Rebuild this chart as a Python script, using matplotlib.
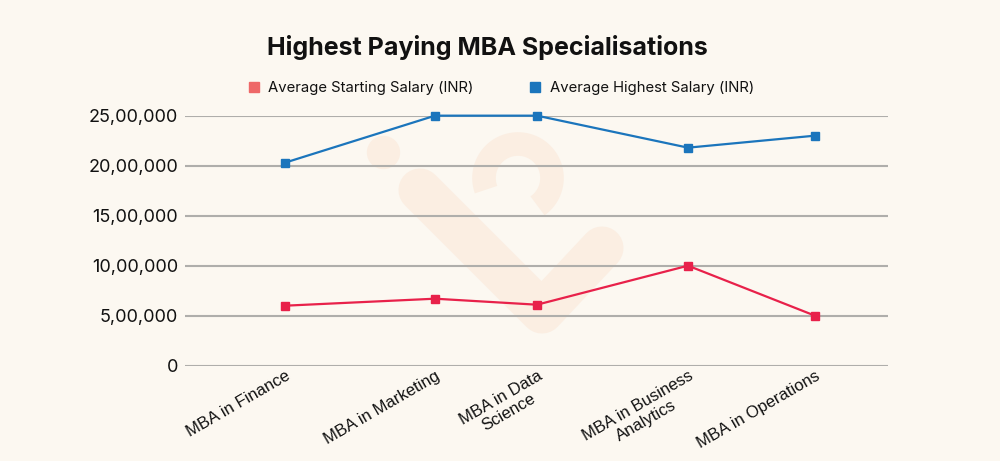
import matplotlib
matplotlib.use("Agg")
import matplotlib.pyplot as plt
from matplotlib.lines import Line2D
from matplotlib.ticker import FuncFormatter
import numpy as np

categories = ["MBA in Finance", "MBA in Marketing", "MBA in Data\nScience",
              "MBA in Business\nAnalytics", "MBA in Operations"]
starting_salary = [600000, 670000, 610000, 1000000, 500000]
highest_salary = [2030000, 2500000, 2500000, 2180000, 2300000]
series_names = ["Average Starting Salary (INR)", "Average Highest Salary (INR)"]
y_ticks = [0, 500000, 1000000, 1500000, 2000000, 2500000]

# category positions along the x axis (as spaced in the original chart)
x_positions = [0.0, 1.5, 2.52, 4.03, 5.3]

BG = "#FCF8F1"
RED = "#E8214A"
RED_LEG = "#EE6868"
BLUE = "#1B75BC"
GRID = "#AFAEAB"
WM = "#FBEEE2"


def indian_format(v, pos=None):
    v = int(round(v))
    s = str(v)
    if len(s) <= 3:
        return s
    last3 = s[-3:]
    rest = s[:-3]
    parts = []
    while len(rest) > 2:
        parts.insert(0, rest[-2:])
        rest = rest[:-2]
    if rest:
        parts.insert(0, rest)
    return ",".join(parts) + "," + last3


fig = plt.figure(figsize=(10, 4.61), dpi=100, facecolor=BG)

# faint watermark (decorative)
wm = fig.add_axes([0, 0, 1, 1], zorder=0)
wm.set_xlim(0, 1000)
wm.set_ylim(461, 0)
wm.axis("off")
wm.plot([420, 542, 602], [190, 312, 248], color=WM, lw=31,
        solid_capstyle="round", solid_joinstyle="round")
wm.plot([383], [152], marker="o", ms=23, color=WM, mec=WM)
theta = np.linspace(np.deg2rad(-55), np.deg2rad(200), 80)
wm.plot(518 + 34 * np.cos(theta), 178 - 34 * np.sin(theta), color=WM, lw=17,
        solid_capstyle="butt")

ax = fig.add_axes([0.185, 0.2067, 0.703, 0.5424], zorder=2)
ax.set_facecolor("none")

ax.plot(x_positions, starting_salary, color=RED, lw=1.6, marker="s", ms=6,
        mec=RED, mfc=RED, clip_on=False, zorder=3)
ax.plot(x_positions, highest_salary, color=BLUE, lw=1.6, marker="s", ms=6,
        mec=BLUE, mfc=BLUE, clip_on=False, zorder=3)

ax.set_xlim(-1.0, 6.03)
ax.set_ylim(0, 2500000)
ax.set_yticks(y_ticks)
ax.yaxis.set_major_formatter(FuncFormatter(indian_format))
ax.grid(axis="y", color=GRID, lw=1.5)
ax.set_axisbelow(True)
for s in ax.spines.values():
    s.set_visible(False)
ax.tick_params(axis="y", length=0, pad=5, labelsize=13, labelcolor="#111111")
for lab in ax.get_yticklabels():
    lab.set_fontfamily("Inter")

ax.set_xticks(x_positions)
ax.set_xticklabels(categories, rotation=30, ha="right", va="top",
                   rotation_mode="anchor", multialignment="center",
                   fontsize=12, fontfamily="Liberation Sans", color="#111111",
                   linespacing=1.15)
ax.tick_params(axis="x", length=0, pad=2)

fig.text(0.487, 1 - 48 / 461, "Highest Paying MBA Specialisations",
         ha="center", va="center", fontsize=18, fontweight="bold",
         fontfamily="Inter", color="#111111")

handles = [Line2D([], [], color=RED_LEG, marker="s", ls="none", ms=7),
           Line2D([], [], color=BLUE, marker="s", ls="none", ms=7)]
leg = fig.legend(handles, series_names, loc="center",
                 bbox_to_anchor=(0.5, 1 - 88 / 461), ncol=2, frameon=False,
                 prop={"family": "Inter", "size": 10.7},
                 handletextpad=0.5, columnspacing=3.6, handlelength=1.0)
for t in leg.get_texts():
    t.set_color("#111111")

fig.savefig("out.png", dpi=100, facecolor=BG)
